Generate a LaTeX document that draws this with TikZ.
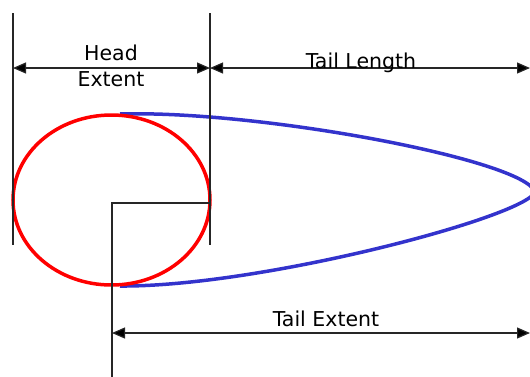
\documentclass[tikz,border=0pt]{standalone}
\usepackage{fontspec}
\setmainfont{DejaVu Sans}
\usetikzlibrary{arrows.meta}
\definecolor{tailblue}{RGB}{51,51,204}
\begin{document}
\begin{tikzpicture}[x=1pt,y=-1pt,
  thinline/.style={draw=black!85, line width=1.2pt},
  dim/.style={thinline, {Triangle[length=13pt,width=11pt,fill=black]}-{Triangle[length=13pt,width=11pt,fill=black]}},
  lbl/.style={font=\fontsize{20.5}{22}\selectfont, inner sep=0pt, anchor=base},
  headcurve/.style={draw=red, line width=3.5pt},
  tailcurve/.style={draw=tailblue, line width=3.5pt}]
\useasboundingbox (0,0) rectangle (530,376);
% coordinates
\coordinate (lt) at (13,13);
\coordinate (lb) at (13,245);
\coordinate (rt) at (210,13);
\coordinate (rb) at (210,245);
\coordinate (hl) at (13,68);
\coordinate (hr) at (210,68);
\coordinate (tr) at (530,68);
\coordinate (c) at (111.5,200);
\coordinate (lr) at (210,203);
\coordinate (lc) at (112,203);
\coordinate (lbot) at (112,380);
\coordinate (el) at (112,333);
\coordinate (er) at (530,333);
\coordinate (ttop) at (120,114);
\coordinate (tip) at (535,192);
\coordinate (tbot) at (120,286);
% tail (blue)
\draw[tailcurve] (ttop) .. controls (260,110) and (525,160) .. (tip)
  .. controls (525,217) and (260,287) .. (tbot);
% head (red)
\draw[headcurve] (c) ellipse [x radius=98.5, y radius=85];
% extension lines
\draw[thinline] (lt) -- (lb);
\draw[thinline] (rt) -- (rb);
\draw[thinline] (lr) -- (lc) -- (lbot);
% dimension arrows
\draw[dim] (hl) -- (hr);
\draw[dim] (hr) -- (tr);
\draw[dim] (el) -- (er);
% labels
\node[lbl] (head) at (111,60) {Head};
\node[lbl] (ext) at (111,86) {Extent};
\node[lbl] (tl) at (361,68) {Tail Length};
\node[lbl] (te) at (326,326) {Tail Extent};
\end{tikzpicture}
\end{document}
